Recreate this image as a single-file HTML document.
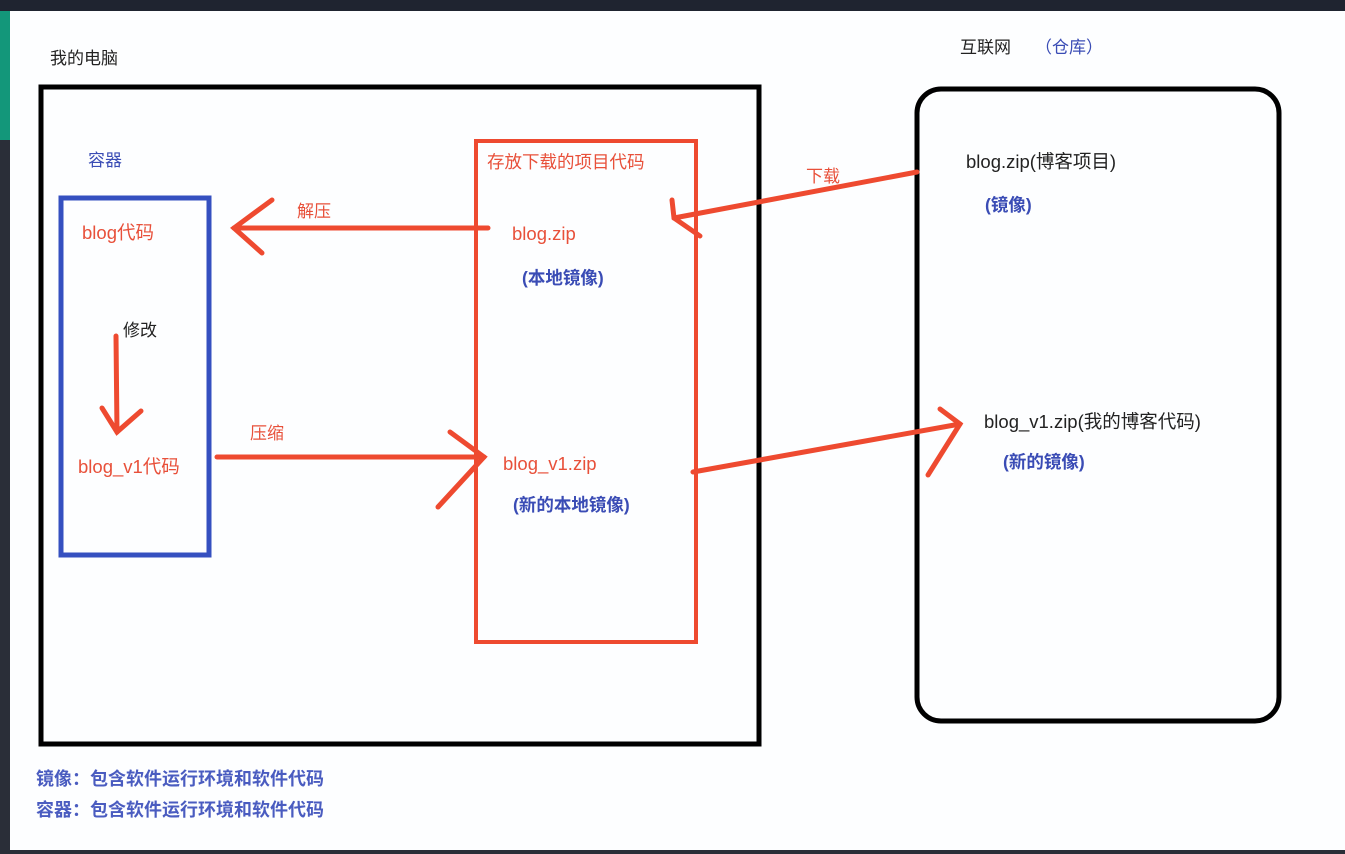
<!DOCTYPE html>
<html><head><meta charset="utf-8"><style>
html,body{margin:0;padding:0;width:1345px;height:854px;overflow:hidden;background:#fdfeff}
svg{display:block}
text{font-family:"Liberation Sans","Noto Sans CJK SC",sans-serif}
</style></head><body>
<svg width="1345" height="854" viewBox="0 0 1345 854">
<rect x="0" y="0" width="1345" height="11" fill="#1f2430"/>
<rect x="0" y="11" width="10" height="129" fill="#13977a"/>
<rect x="0" y="140" width="10" height="714" fill="#2a2e38"/>
<rect x="0" y="850" width="1345" height="4" fill="#2a2e38"/>

<text x="50" y="64" font-size="17" fill="#222">我的电脑</text>
<rect x="41" y="87" width="718" height="657" fill="none" stroke="#000" stroke-width="5"/>

<text x="88" y="166" font-size="17" fill="#3a4cb5">容器</text>
<rect x="61" y="198" width="148" height="357" fill="none" stroke="#3550c0" stroke-width="5"/>
<text x="82" y="239" font-size="18.5" fill="#e8503a">blog代码</text>
<text x="123" y="336" font-size="17" fill="#222">修改</text>
<g stroke="#ee4a30" stroke-width="5" fill="none" stroke-linecap="round">
<path d="M116 336 L117 432"/><path d="M102 408 L117 432 L141 411"/></g>
<text x="78" y="473" font-size="18.5" fill="#e8503a">blog_v1代码</text>

<text x="487" y="168" font-size="17.5" fill="#e8503a">存放下载的项目代码</text>
<rect x="476" y="141" width="220" height="501" fill="none" stroke="#ee4a30" stroke-width="4"/>
<text x="512" y="240" font-size="18.5" fill="#e8503a">blog.zip</text>
<text x="522" y="284" font-size="17.5" font-weight="bold" fill="#3a4cb5">(本地镜像)</text>
<text x="503" y="470" font-size="18.5" fill="#e8503a">blog_v1.zip</text>
<text x="513" y="511" font-size="17.5" font-weight="bold" fill="#3a4cb5">(新的本地镜像)</text>

<text x="297" y="217" font-size="17" fill="#e8503a">解压</text>
<g stroke="#ee4a30" stroke-width="5" fill="none" stroke-linecap="round">
<path d="M488 228 L234 228"/><path d="M272 200 L234 228 L262 253"/></g>
<text x="250" y="439" font-size="17" fill="#e8503a">压缩</text>
<g stroke="#ee4a30" stroke-width="5" fill="none" stroke-linecap="round">
<path d="M217 457 L484 457"/><path d="M450 432 L484 457 L438 507"/></g>

<text x="960" y="53" font-size="17" fill="#222">互联网</text>
<text x="1035" y="53" font-size="17" fill="#3a4cb5">（仓库）</text>
<rect x="917" y="89" width="362" height="632" rx="24" fill="none" stroke="#000" stroke-width="5"/>
<text x="966" y="168" font-size="18.5" fill="#222">blog.zip(博客项目)</text>
<text x="985" y="211" font-size="17.5" font-weight="bold" fill="#3a4cb5">(镜像)</text>
<text x="984" y="428" font-size="18.5" fill="#222">blog_v1.zip(我的博客代码)</text>
<text x="1003" y="468" font-size="17.5" font-weight="bold" fill="#3a4cb5">(新的镜像)</text>

<text x="806" y="182" font-size="17" fill="#e8503a">下载</text>
<g stroke="#ee4a30" stroke-width="5" fill="none" stroke-linecap="round">
<path d="M917 172 L674 218"/><path d="M672 200 L674 218 L700 236"/></g>
<g stroke="#ee4a30" stroke-width="5" fill="none" stroke-linecap="round">
<path d="M693 472 L960 424"/><path d="M940 409 L960 424 L928 475"/></g>

<text x="36" y="785" font-size="18" font-weight="bold" fill="#4a5cc0">镜像：包含软件运行环境和软件代码</text>
<text x="36" y="816" font-size="18" font-weight="bold" fill="#4a5cc0">容器：包含软件运行环境和软件代码</text>
</svg>
</body></html>
